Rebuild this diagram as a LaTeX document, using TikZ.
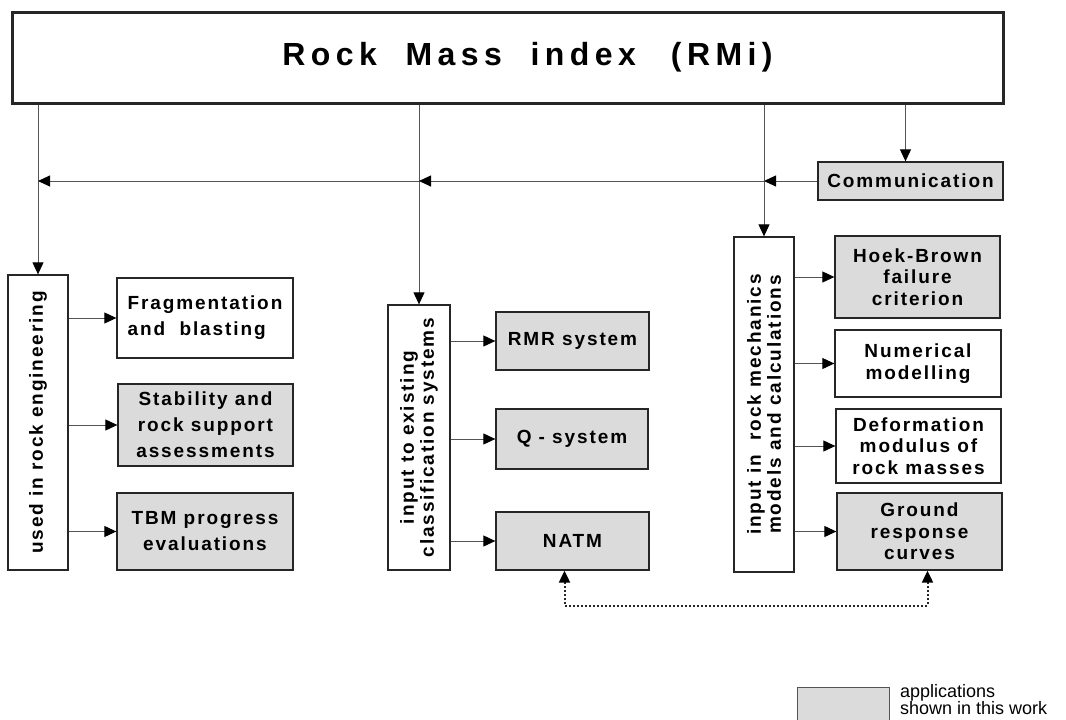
\documentclass[tikz,border=0pt]{standalone}
\usepackage{fontspec}
\setmainfont{Liberation Sans}
\newfontfamily\boxfont[LetterSpace=10]{Liberation Sans}
\newfontfamily\titlefont[LetterSpace=17,WordSpace=2]{Liberation Sans}
\newcommand\keyfont{\fontsize{18}{17.5}\selectfont}
\usetikzlibrary{arrows.meta}
\definecolor{boxgray}{gray}{0.86}
\definecolor{edge}{gray}{0.15}
\definecolor{wire}{gray}{0.33}

\begin{document}
\begin{tikzpicture}[x=1pt, y=-1pt,
 box/.style={draw=edge, line width=1.3pt, inner sep=0pt, align=center, font=\boxfont\bfseries\fontsize{19}{21.5}\selectfont},
 wide/.style={font=\boxfont\bfseries\fontsize{19}{26}\selectfont},
 shown/.style={box, fill=boxgray},
 vbox/.style={draw=edge, line width=1.3pt, inner sep=0pt},
 vtext/.style={rotate=90, align=center, inner sep=0pt, font=\boxfont\bfseries\fontsize{19}{20}\selectfont},
 arr/.style={-{Triangle[length=12pt, width=11pt, color=black]}, draw=wire, line width=0.9pt},
 dotarr/.style={{Triangle[length=12pt, width=11pt, color=black]}-{Triangle[length=12pt, width=11pt, color=black]}, draw=edge, line width=2pt, dash pattern=on 2pt off 2pt}]
\useasboundingbox (0,0) rectangle (1066,720);
\node[box, minimum width=991, minimum height=91, line width=3pt, font=\titlefont\bfseries\fontsize{32}{36}\selectfont] (rmi) at (507.5,57.5) {\hspace*{40pt}Rock Mass index\hspace{35pt}(RMi)};
\node[shown, minimum width=185, minimum height=38] (comm) at (910.5,181) {Communication};
\node[vbox, minimum width=60, minimum height=295] (eng) at (38,422.5) {};
\node[vtext] (engtxt) at (eng) {used in rock engineering};
\node[vbox, minimum width=62, minimum height=265] (cls) at (419,437.5) {};
\node[vtext] (clstxt) at (cls) {input to existing\\classification systems};
\node[vbox, minimum width=60, minimum height=335] (mech) at (764,404.5) {};
\node[vtext] (mechtxt) at (mech) {input in\ \ rock mechanics\\models and calculations};
\node[box, wide, align=left, minimum width=176, minimum height=80] (frag) at (205,318) {Fragmentation\\and\ \ blasting};
\node[shown, wide, minimum width=175, minimum height=82] (stab) at (205.5,425) {Stability and\\rock support\\assessments};
\node[shown, wide, minimum width=176, minimum height=77] (tbm) at (205,531.5) {TBM progress\\evaluations};
\node[shown, minimum width=153, minimum height=58] (rmr) at (572.5,341) {RMR system};
\node[shown, minimum width=152, minimum height=60] (qsys) at (572,439) {Q - system};
\node[shown, minimum width=153, minimum height=58] (natm) at (572.5,541) {NATM};
\node[shown, minimum width=165, minimum height=82] (hoek) at (917.5,277) {Hoek-Brown\\failure\\criterion};
\node[box, minimum width=166, minimum height=67] (num) at (918,363.5) {Numerical\\modelling};
\node[box, minimum width=165, minimum height=74] (defo) at (918.5,446) {Deformation\\modulus of\\rock masses};
\node[shown, minimum width=165, minimum height=77] (ground) at (919.5,531.5) {Ground\\response\\curves};
\node[shown, line width=1pt, draw=wire, minimum width=92, minimum height=35] (key) at (843,704.5) {};
\node[anchor=north west, align=left, inner sep=0pt, font=\keyfont] (keytxt) at (900,684) {applications\\shown in this work};
\draw[arr] (eng.north |- rmi.south) -- (eng.north);
\draw[arr] (cls.north |- rmi.south) -- (cls.north);
\draw[arr] (mech.north |- rmi.south) -- (mech.north);
\draw[arr] ([xshift=-5pt]comm.north |- rmi.south) -- ([xshift=-5pt]comm.north);
\draw[arr] (comm.west) -- (mech.north |- comm.west);
\draw[arr] (mech.north |- comm.west) -- (cls.north |- comm.west);
\draw[arr] (cls.north |- comm.west) -- (eng.north |- comm.west);
\draw[arr] (eng.east |- frag.west) -- (frag.west);
\draw[arr] (eng.east |- stab.west) -- (stab.west);
\draw[arr] (eng.east |- tbm.west) -- (tbm.west);
\draw[arr] (cls.east |- rmr.west) -- (rmr.west);
\draw[arr] (cls.east |- qsys.west) -- (qsys.west);
\draw[arr] (cls.east |- natm.west) -- (natm.west);
\draw[arr] (mech.east |- hoek.west) -- (hoek.west);
\draw[arr] (mech.east |- num.west) -- (num.west);
\draw[arr] (mech.east |- defo.west) -- (defo.west);
\draw[arr] (mech.east |- ground.west) -- (ground.west);
\draw[dotarr] ([xshift=-8pt]natm.south) -- ++(0,35) -| ([xshift=8pt]ground.south);
\end{tikzpicture}
\end{document}
